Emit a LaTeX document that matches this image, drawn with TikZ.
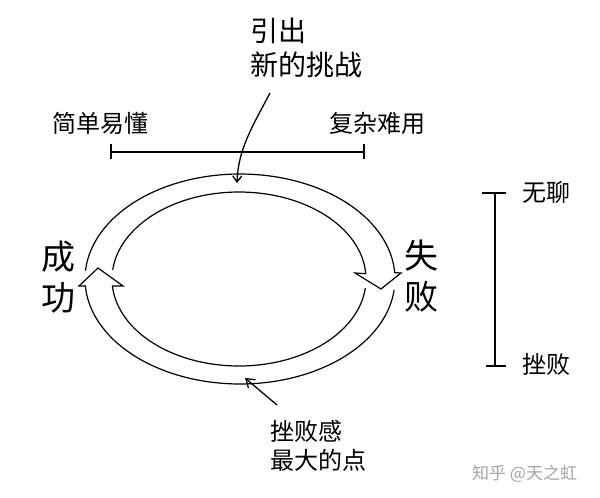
\documentclass[tikz,border=0pt]{standalone}
\usepackage{fontspec}
\setmainfont{Noto Sans CJK SC}
\usetikzlibrary{arrows.meta}
\tikzset{
  band/.style={line width=1.2pt, black},
  bar/.style={line width=1.5pt, black},
  pointer/.style={line width=1.3pt, black},
  lbl/.style={inner sep=0pt, anchor=west, font=\fontsize{24}{29}\selectfont, align=left},
  biglbl/.style={inner sep=0pt, anchor=center, font=\fontsize{34}{41}\selectfont, align=center},
  toplbl/.style={inner sep=0pt, anchor=west, font=\fontsize{28}{34}\selectfont, align=left},
  wm/.style={inner sep=0pt, anchor=west, font=\fontsize{17}{20}\selectfont, text=black!35}
}
\begin{document}
\begin{tikzpicture}[x=1pt,y=-1pt]
\useasboundingbox (0,0) rectangle (600,498);
\fill[white] (0,0) rectangle (600,498);

% texts
\node[toplbl] (challenge) at (250,48) {引出\\新的挑战};
\node[lbl] (easy) at (52,123) {简单易懂};
\node[lbl] (hard) at (329,123) {复杂难用};
\node[biglbl] (success) at (58,277) {成\\功};
\node[biglbl] (failure) at (421,276) {失\\败};
\node[lbl] (boring) at (522,192) {无聊};
\node[lbl] (frustr) at (522,364) {挫败};
\node[lbl] (worst) at (270,446) {挫败感\\最大的点};
\node[wm] (mark) at (472,474) {知乎 @天之虹};

% horizontal scale
\coordinate (hL) at (111,152);
\coordinate (hR) at (364,152);
\draw[bar] (hL) -- (hR);
\draw[bar] ([yshift=-7pt]hL) -- ([yshift=8pt]hL);
\draw[bar] ([yshift=-7pt]hR) -- ([yshift=8pt]hR);

% vertical scale
\coordinate (vT) at (495,193);
\coordinate (vB) at (495,366);
\draw[bar] (vT) -- (vB);
\draw[bar] ([xshift=-13pt]vT) -- ([xshift=11pt]vT);
\draw[bar] ([xshift=-9pt]vB) -- ([xshift=11pt]vB);

% upper band arrow (left -> top -> right)
\draw[band, line join=miter]
  plot[domain=186:356.5, samples=80] ({239+127*cos(\x)},{279+87*sin(\x)})
  -- (355,273) -- (381,289) -- (401,273)
  -- plot[domain=356.5:184.5, samples=80] ({240+155*cos(\x)},{279+105*sin(\x)});

% lower band arrow (right -> bottom -> left)
\draw[band, line join=miter]
  plot[domain=6:175.4, samples=80] ({239+127*cos(\x)},{279+87*sin(\x)})
  -- (123,286) -- (98,268) -- (79,286)
  -- plot[domain=176.2:6, samples=80] ({240+155*cos(\x)},{279+105*sin(\x)});

% pointers
\coordinate (p1s) at (270,93);
\coordinate (p1e) at (237,183);
\draw[pointer, -{Straight Barb[length=6pt,width=9pt]}]
  (p1s) .. controls (252,127) and (238,150) .. (p1e);
\coordinate (p2s) at (277,405);
\coordinate (p2e) at (245,378);
\draw[pointer, -{Straight Barb[length=8pt,width=11pt]}] (p2s) -- (p2e);
\end{tikzpicture}
\end{document}
